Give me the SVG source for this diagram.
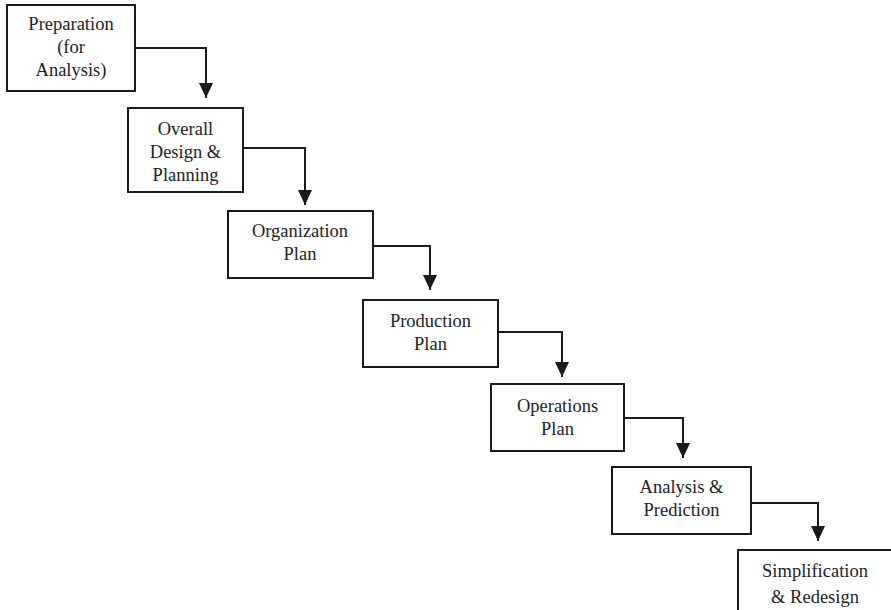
<svg xmlns="http://www.w3.org/2000/svg" width="891" height="610" viewBox="0 0 891 610">
<style>
.box{fill:#fff;stroke:#1a1a1a;stroke-width:2}
.t{font-family:"Liberation Serif","Times New Roman",serif;font-size:18.5px;fill:#222;text-anchor:middle}
.c{fill:none;stroke:#1a1a1a;stroke-width:2}
</style>
<defs>
<marker id="ah" markerUnits="userSpaceOnUse" markerWidth="16" markerHeight="14" refX="15" refY="7" orient="auto">
<path d="M0,0 L15,7 L0,14 Z" fill="#1a1a1a"/>
</marker>
</defs>
<rect width="891" height="610" fill="#fff"/>
<g id="connectors">
<path class="c" d="M135,48 H206 V98" marker-end="url(#ah)"/>
<path class="c" d="M243,148 H305 V205" marker-end="url(#ah)"/>
<path class="c" d="M373,246 H430 V290" marker-end="url(#ah)"/>
<path class="c" d="M498,332 H562 V377" marker-end="url(#ah)"/>
<path class="c" d="M624,418 H683 V458" marker-end="url(#ah)"/>
<path class="c" d="M751,503 H818 V541" marker-end="url(#ah)"/>
</g>
<g id="n1"><rect class="box" x="7" y="5" width="128" height="86"/>
<text class="t" x="71" y="30">Preparation</text><text class="t" x="71" y="53">(for</text><text class="t" x="71" y="76">Analysis)</text></g>
<g id="n2"><rect class="box" x="128" y="108" width="115" height="84"/>
<text class="t" x="185.5" y="135">Overall</text><text class="t" x="185.5" y="158">Design &amp;</text><text class="t" x="185.5" y="181">Planning</text></g>
<g id="n3"><rect class="box" x="228" y="211" width="145" height="67"/>
<text class="t" x="300" y="237">Organization</text><text class="t" x="300" y="260">Plan</text></g>
<g id="n4"><rect class="box" x="363" y="300" width="135" height="67"/>
<text class="t" x="430.5" y="327">Production</text><text class="t" x="430.5" y="350">Plan</text></g>
<g id="n5"><rect class="box" x="491" y="384" width="133" height="67"/>
<text class="t" x="557.5" y="412">Operations</text><text class="t" x="557.5" y="435">Plan</text></g>
<g id="n6"><rect class="box" x="612" y="467" width="139" height="67"/>
<text class="t" x="681.5" y="493">Analysis &amp;</text><text class="t" x="681.5" y="516">Prediction</text></g>
<g id="n7"><rect class="box" x="738" y="550" width="160" height="80"/>
<text class="t" x="815" y="577">Simplification</text><text class="t" x="815" y="603">&amp; Redesign</text></g>
</svg>
